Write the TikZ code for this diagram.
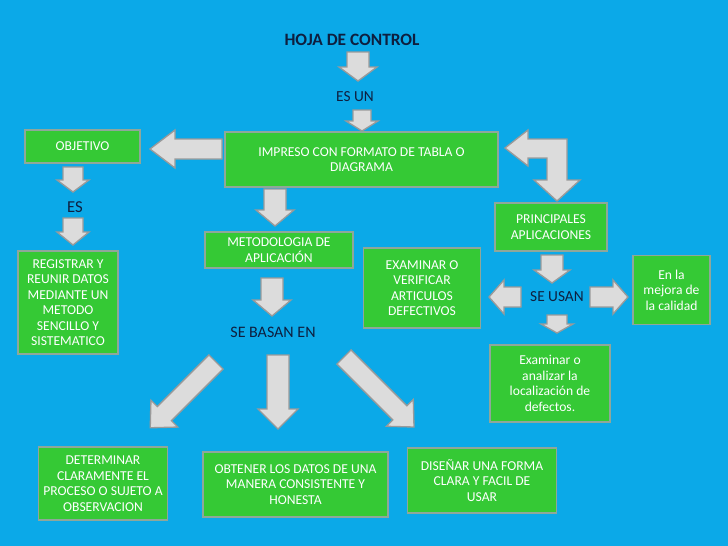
\documentclass[tikz,border=0pt]{standalone}
\usepackage{fontspec}
\setmainfont{Carlito}
\definecolor{bg}{HTML}{0BA9E8}
\definecolor{gbox}{HTML}{35C935}
\definecolor{gedge}{HTML}{8FA79A}
\definecolor{arrf}{HTML}{DCDCDC}
\definecolor{arre}{HTML}{9A9A9A}
\definecolor{navy}{HTML}{0E1F3F}
\tikzset{
  x=0.75pt,y=-0.75pt,
  gb/.style={draw=gedge,line width=1.2pt,fill=gbox,text=white,font=\fontsize{10.2}{11.6}\selectfont,align=center,inner sep=2pt},
  lbl/.style={text=navy,font=\fontsize{11.5}{13}\selectfont},
  arrsty/.style={draw=arre,fill=arrf,line width=1pt,line join=miter},
  pics/barrow/.style n args={4}{code={\draw[arrsty] (0,-#2)--(#1-#4,-#2)--(#1-#4,-#3)--(#1,0)--(#1-#4,#3)--(#1-#4,#2)--(0,#2)--cycle;}}
}
\begin{document}
\begin{tikzpicture}
\fill[bg] (0,0) rectangle (728,546);
\useasboundingbox (0,0) rectangle (728,546);

\node[text=navy,font=\bfseries\fontsize{13}{15}\selectfont] (title) at (352,40) {HOJA DE CONTROL};
\pic[rotate=-90] at (358,52) {barrow={29}{11}{19}{14}};
\node[lbl] (esun) at (355,97) {ES UN};
\pic[rotate=-90] at (362,110) {barrow={21}{9}{16}{10}};

\node[gb,minimum width=205pt,minimum height=41pt] (main) at (361.5,159.5) {IMPRESO CON FORMATO DE TABLA O\\DIAGRAMA};
\pic[rotate=180] at (222,149) {barrow={72}{10}{19}{25}};
\node[gb,minimum width=86pt,minimum height=25pt] (obj) at (82.5,146.5) {OBJETIVO};
\pic[rotate=-90] at (73,167) {barrow={25}{10}{16}{12}};
\node[lbl,font=\fontsize{12.5}{14}\selectfont] (es) at (75,207) {ES};
\pic[rotate=-90] at (73,218) {barrow={27}{10}{16}{13}};
\node[gb,minimum width=75pt,minimum height=77pt] (reg) at (68,302.5) {REGISTRAR Y\\REUNIR DATOS\\MEDIANTE UN\\METODO\\SENCILLO Y\\SISTEMATICO};

\draw[arrsty] (505,148)--(528,130)--(528,139)--(567,139)--(567,180)--(580,180)--(557,201)--(534,180)--(547,180)--(547,158)--(528,158)--(528,166)--cycle;
\node[gb,minimum width=84pt,minimum height=36pt] (princ) at (551,227) {PRINCIPALES\\APLICACIONES};
\pic[rotate=-90] at (552,255) {barrow={28}{11}{18}{13}};
\node[lbl] (seusan) at (557,297) {SE USAN};
\pic[rotate=180] at (521,297) {barrow={32}{10}{17}{15}};
\pic at (590,297) {barrow={38}{10}{17}{15}};
\node[gb,minimum width=58pt,minimum height=52pt] (mejora) at (671.5,290) {En la\\mejora de\\la calidad};
\pic[rotate=-90] at (557,315) {barrow={18}{10}{16}{9}};
\node[gb,minimum width=90pt,minimum height=58pt] (loc) at (550,383.5) {Examinar o\\analizar la\\localización de\\defectos.};
\node[gb,minimum width=88pt,minimum height=60pt] (exam) at (422,288) {EXAMINAR O\\VERIFICAR\\ARTICULOS\\DEFECTIVOS};

\pic[rotate=-90] at (275,189) {barrow={37}{11}{19}{16}};
\node[gb,minimum width=111pt,minimum height=27pt] (met) at (279,250) {METODOLOGIA DE\\APLICACIÓN};
\pic[rotate=-90] at (272,278) {barrow={38}{11}{19}{16}};
\node[lbl,font=\fontsize{12}{14}\selectfont] (sebasan) at (273,332) {SE BASAN EN};
\pic[rotate=-135] at (216,362) {barrow={93}{10}{19}{20}};
\pic[rotate=-90] at (278,355) {barrow={74}{11}{20}{20}};
\pic[rotate=-45] at (344,357) {barrow={99}{10}{19}{20}};

\node[gb,minimum width=97pt,minimum height=55pt] (det) at (103,483.5) {DETERMINAR\\CLARAMENTE EL\\PROCESO O SUJETO A\\OBSERVACION};
\node[gb,minimum width=139pt,minimum height=49pt] (obt) at (295.5,484.5) {OBTENER LOS DATOS DE UNA\\MANERA CONSISTENTE Y\\HONESTA};
\node[gb,minimum width=112pt,minimum height=49pt] (dis) at (482,480.5) {DISEÑAR UNA FORMA\\CLARA Y FACIL DE\\USAR};
\end{tikzpicture}
\end{document}
